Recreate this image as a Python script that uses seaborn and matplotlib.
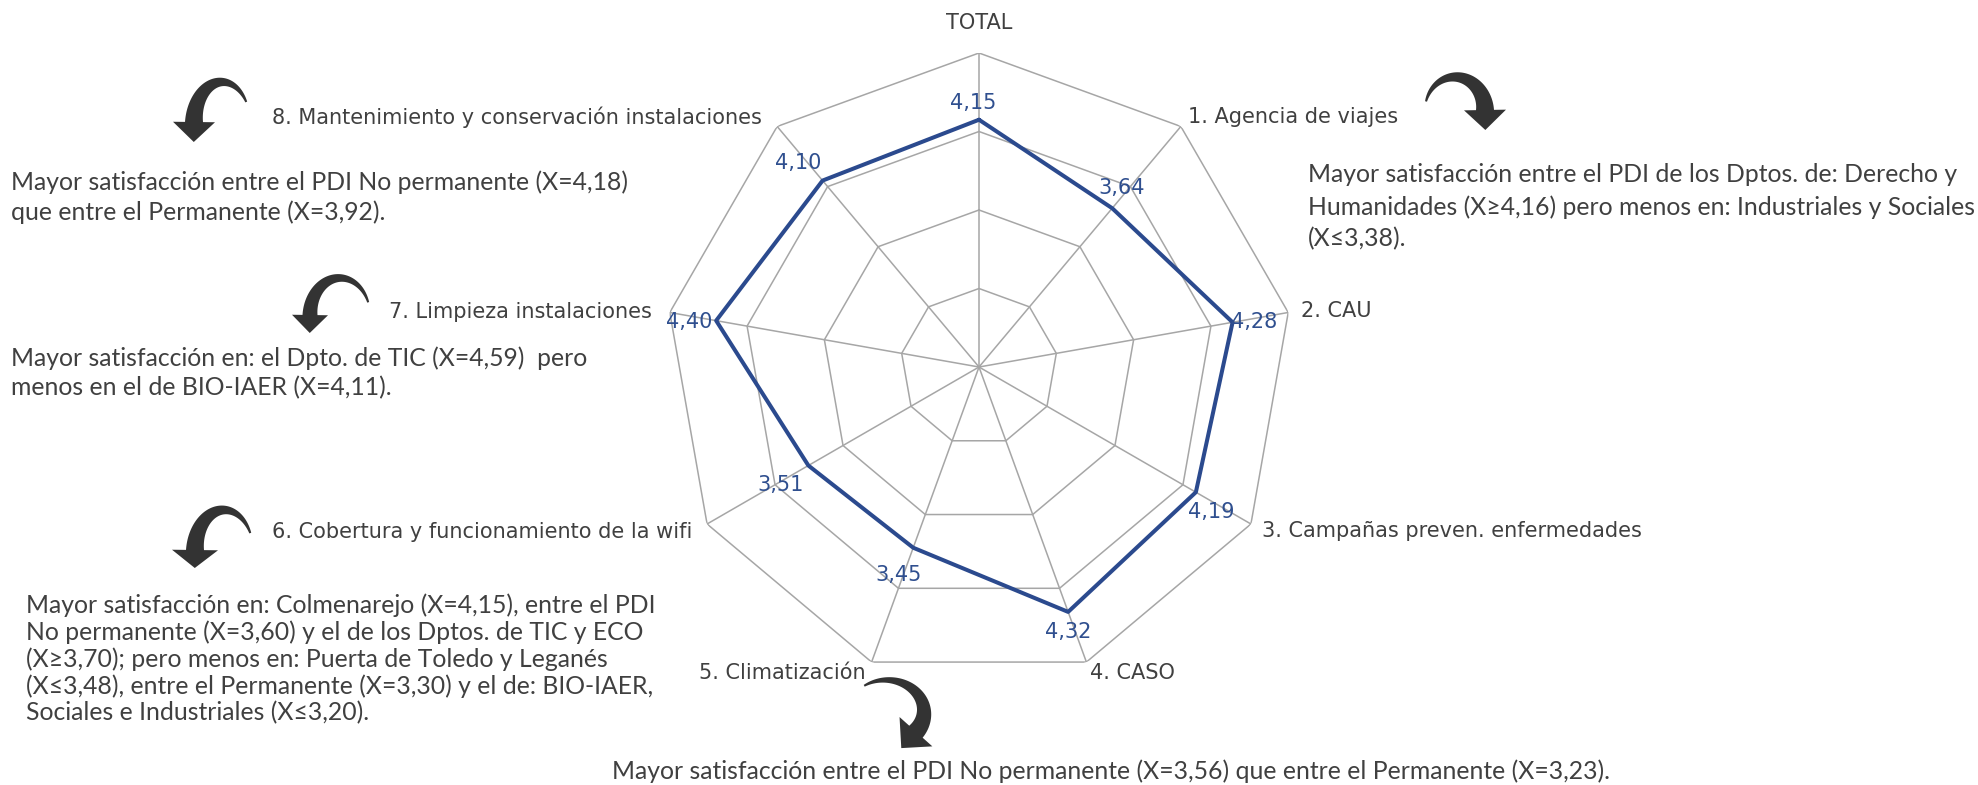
import numpy as np
import pandas as pd
import matplotlib
matplotlib.use('Agg')
import matplotlib.pyplot as plt
import seaborn as sns
from matplotlib.patches import Polygon

# Data
categories = ['TOTAL', '1. Agencia de viajes', '2. CAU', '3. Campañas preven. enfermedades',
              '4. CASO', '5. Climatización', '6. Cobertura y funcionamiento de la wifi',
              '7. Limpieza instalaciones', '8. Mantenimiento y conservación instalaciones']
values = [4.15, 3.64, 4.28, 4.19, 4.32, 3.45, 3.51, 4.40, 4.10]
grid_levels = [1, 2, 3, 4, 5]

notes_1 = ['Mayor satisfacción entre el PDI de los Dptos. de: Derecho y',
           'Humanidades (X≥4,16) pero menos en: Industriales y Sociales',
           '(X≤3,38).']
notes_5 = ['Mayor satisfacción entre el PDI No permanente (X=3,56) que entre el Permanente (X=3,23).']
notes_6 = ['Mayor satisfacción en: Colmenarejo (X=4,15), entre el PDI',
           'No permanente (X=3,60) y el de los Dptos. de TIC y ECO',
           '(X≥3,70); pero menos en: Puerta de Toledo y Leganés',
           '(X≤3,48), entre el Permanente (X=3,30) y el de: BIO-IAER,',
           'Sociales e Industriales (X≤3,20).']
notes_7 = ['Mayor satisfacción en: el Dpto. de TIC (X=4,59)  pero',
           'menos en el de BIO-IAER (X=4,11).']
notes_8 = ['Mayor satisfacción entre el PDI No permanente (X=4,18)',
           'que entre el Permanente (X=3,92).']

sns.set_style('white')
plt.rcParams['font.family'] = ['DejaVu Sans']

LINE = '#2B4A8E'
GRID = '#A6A6A6'
TXT = '#404040'
ARROW = '#333333'
LABEL_FONT = dict(family=['DejaVu Sans'], fontsize=15, color=TXT)
NOTE_FONT = dict(family=['Lato', 'DejaVu Sans'], fontsize=17.8, color=TXT)

fig = plt.figure(figsize=(19.78, 7.85), dpi=100)

# overlay in pixel coords for texts and arrows
ax0 = fig.add_axes([0, 0, 1, 1])
ax0.set_xlim(0, 1978)
ax0.set_ylim(785, 0)
ax0.axis('off')

# radar axes (center 979,367 ; radius 314 px)
ax = fig.add_axes([665 / 1978, 104 / 785, 628 / 1978, 628 / 785], projection='polar')
ax.set_theta_zero_location('N')
ax.set_theta_direction(-1)
ax.patch.set_alpha(0)

theta = np.radians(np.arange(len(categories)) * 360 / len(categories))
theta_c = np.append(theta, theta[0])

for lv in grid_levels[1:]:
    ax.plot(theta_c, [lv] * len(theta_c), color=GRID, lw=1.1, zorder=1)
for t in theta:
    ax.plot([t, t], [grid_levels[0], grid_levels[-1]], color=GRID, lw=1.1, zorder=1)

df = pd.DataFrame({'theta': theta_c, 'valor': values + [values[0]]})
sns.lineplot(data=df, x='theta', y='valor', sort=False, estimator=None, ax=ax,
             color=LINE, linewidth=2.9, zorder=3)

ax.set_ylim(grid_levels[0], grid_levels[-1])
ax.set_xticks([])
ax.set_yticks([])
ax.grid(False)
ax.spines['polar'].set_visible(False)
ax.set_xlabel('')
ax.set_ylabel('')

# value labels (offsets in pixels)
offsets = [(-6, 17), (9, 20), (22, 0), (15, -20), (0, -20), (-15, -27), (-28, -19), (-27, -1), (-24, 18)]
for t, v, off in zip(theta, values, offsets):
    ax.annotate(f'{v:.2f}'.replace('.', ','), (t, v), xytext=off, textcoords='offset pixels',
                ha='center', va='center', fontsize=15, color='#2F4F8F', zorder=4,
                annotation_clip=False)

# category labels
label_pos = [(979, 23, 'center'), (1188, 117, 'left'), (1301, 311, 'left'), (1262, 531, 'left'),
             (1090, 673, 'left'), (866, 673, 'right'), (692, 532, 'right'), (652, 312, 'right'),
             (762, 117, 'right')]
for lab, (x, y, ha) in zip(categories, label_pos):
    ax0.text(x, y, lab, ha=ha, va='center', **LABEL_FONT)


# comments
def note(lines, x, y0, step):
    for i, ln in enumerate(lines):
        ax0.text(x, y0 + i * step, ln, ha='left', va='center', **NOTE_FONT)


note(notes_8, 11, 182, 30)
note(notes_7, 11, 358, 30)
note(notes_6, 26, 605, 27)
note(notes_1, 1308, 175, 32)
note(notes_5, 612, 771, 30)


def curved_arrow(cx, cy, rx, ry, t0, t1, w0, w1, head_len, head_w):
    t = np.radians(np.linspace(t0, t1, 80))
    x = cx + rx * np.cos(t)
    y = cy - ry * np.sin(t)
    dx, dy = np.gradient(x), np.gradient(y)
    n = np.hypot(dx, dy)
    ux, uy = dx / n, dy / n
    nx, ny = -uy, ux
    w = np.linspace(w0, w1, len(t)) / 2
    left = np.c_[x + nx * w, y + ny * w]
    right = np.c_[x - nx * w, y - ny * w]
    ex, ey = x[-1], y[-1]
    tip = [ex + ux[-1] * head_len, ey + uy[-1] * head_len]
    hl = [ex + nx[-1] * head_w, ey + ny[-1] * head_w]
    hr = [ex - nx[-1] * head_w, ey - ny[-1] * head_w]
    pts = np.vstack([left, [hl, tip, hr], right[::-1]])
    ax0.add_patch(Polygon(pts, closed=True, facecolor=ARROW, edgecolor='none'))


curved_arrow(222, 122, 28, 40, 30, 180, 2, 18, 20, 21)
curved_arrow(340, 315, 30, 37, 20, 180, 2, 15, 18, 18)
curved_arrow(224, 550, 29, 40, 25, 180, 2, 18, 18, 23)
curved_arrow(1455, 110, 30, 33, 165, 0, 2, 18, 20, 21)
curved_arrow(886, 712, 38, 32, 125, -38, 2, 18, 22, 22)

plt.savefig('out.png', dpi=100)
